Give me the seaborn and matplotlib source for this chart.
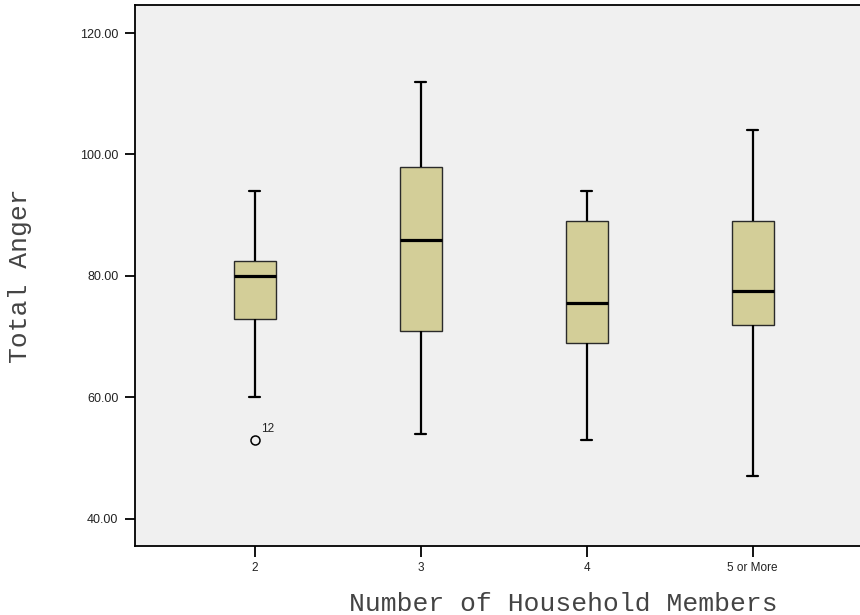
import matplotlib
matplotlib.use("Agg")
import matplotlib.pyplot as plt
import seaborn as sns
import pandas as pd

# ---- data ----
categories = ["2", "3", "4", "5 or More"]
anger_2 = [53, 60, 73, 76, 80, 81, 82.5, 90, 94]
anger_3 = [54, 71, 86, 98, 112]
anger_4 = [53, 69, 75.5, 89, 94]
anger_5plus = [47, 72, 77.5, 89, 104]
outlier_value = 53
outlier_case = "12"
y_ticks = [40, 60, 80, 100, 120]

groups = [anger_2, anger_3, anger_4, anger_5plus]
df = pd.DataFrame({
    "members": [c for c, g in zip(categories, groups) for _ in g],
    "anger": [v for g in groups for v in g],
})

sns.set_theme(style="white")
plt.rcParams["font.family"] = ["Liberation Sans", "DejaVu Sans"]

fig = plt.figure(figsize=(8.6, 6.15), dpi=100)
ax = fig.add_axes([135 / 860, (615 - 545.7) / 615, (991 - 135) / 860, (545.7 - 5.3) / 615])
ax.set_facecolor("#f0f0f0")

sns.boxplot(
    data=df, x="members", y="anger", order=categories, ax=ax,
    color="#d3ce98", width=0.253, saturation=1, whis=1.5,
    boxprops=dict(edgecolor="#2a2a2a", linewidth=1.0),
    whiskerprops=dict(color="black", linewidth=1.6),
    capprops=dict(color="black", linewidth=1.6),
    medianprops=dict(color="black", linewidth=2.3),
    flierprops=dict(marker="o", markersize=6.5, markerfacecolor="none",
                    markeredgecolor="black", markeredgewidth=1.1),
    capwidths=0.062,
)

ax.annotate(outlier_case, xy=(0, outlier_value), xytext=(5, 6),
            textcoords="offset points", fontsize=8.5, color="#222222")

ax.set_xlim(-0.72, -0.72 + 856 / 166)
ax.set_ylim(35.6, 124.56)
ax.set_yticks(y_ticks)
ax.set_yticklabels([f"{v:.2f}" for v in y_ticks], fontsize=9)
ax.set_xticks(range(len(categories)))
ax.set_xticklabels(categories, fontsize=8.5,
                   family=["Liberation Sans Narrow", "Liberation Sans", "DejaVu Sans"])
ax.tick_params(axis="y", direction="out", length=7, width=1.3, pad=5, colors="black", left=True)
ax.tick_params(axis="x", direction="out", length=8, width=1.3, pad=4, colors="black", bottom=True)
for lab in ax.get_yticklabels() + ax.get_xticklabels():
    lab.set_color("#222222")

for s in ax.spines.values():
    s.set_color("black")
    s.set_linewidth(1.3)
    s.set_visible(True)

ax.set_xlabel("Number of Household Members", fontsize=19,
              family=["Liberation Mono", "DejaVu Sans Mono"], color="#444444")
ax.set_ylabel("Total Anger", fontsize=19,
              family=["Liberation Mono", "DejaVu Sans Mono"], color="#444444")
ax.xaxis.set_label_coords(0.5, -0.086)
ax.yaxis.set_label_coords((32 - 135) / 856, 0.5)

fig.savefig("out.png", dpi=100)
